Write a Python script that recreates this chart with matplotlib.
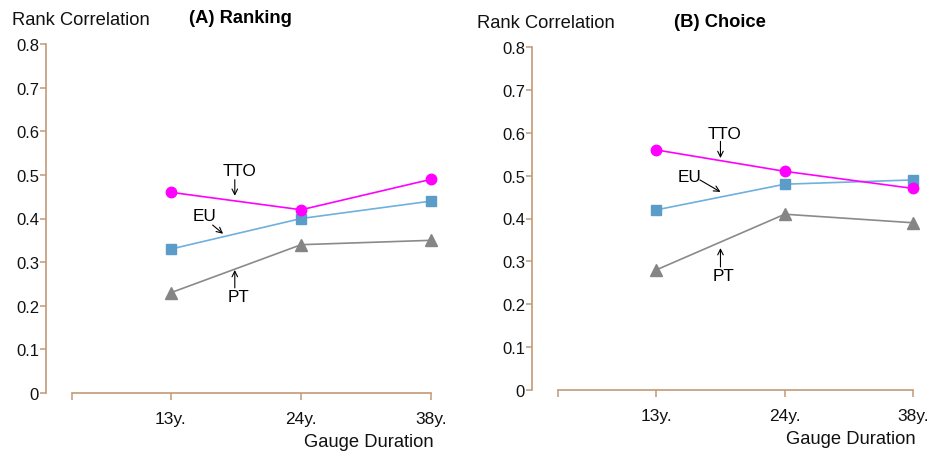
import matplotlib
matplotlib.use("Agg")
import matplotlib.pyplot as plt

plt.rcParams['font.family'] = ['Liberation Sans', 'DejaVu Sans']

# data
durations = ["13y.", "24y.", "38y."]
rank_tto = [0.46, 0.42, 0.49]
rank_eu = [0.33, 0.40, 0.44]
rank_pt = [0.23, 0.34, 0.35]
choice_tto = [0.56, 0.51, 0.47]
choice_eu = [0.42, 0.48, 0.49]
choice_pt = [0.28, 0.41, 0.39]
yticks = [0, 0.1, 0.2, 0.3, 0.4, 0.5, 0.6, 0.7, 0.8]

axis_col = "#c39a76"
tto_col = "#ff00ff"
eu_line = "#6fb0dc"
eu_mark = "#5b9cc9"
pt_line = "#8a8a8a"
pt_mark = "#858585"


def draw_panel(ax, tto, eu, pt, title, title_x, ylab_x, labels, x_left):
    x = list(range(len(durations)))
    ax.plot(x, tto, color=tto_col, lw=1.2, marker='o', ms=7.5, mec=tto_col, mfc=tto_col,
            zorder=3, clip_on=False)
    ax.plot(x, eu, color=eu_line, lw=1.2, marker='s', ms=7, mec=eu_mark, mfc=eu_mark,
            zorder=2, clip_on=False)
    ax.plot(x, pt, color=pt_line, lw=1.2, marker='^', ms=9, mec=pt_mark, mfc=pt_mark,
            zorder=2, clip_on=False)

    ax.set_xlim(x_left, 2.02)
    ax.set_ylim(0, 0.8)
    for s in ['top', 'right']:
        ax.spines[s].set_visible(False)
    ax.spines['left'].set_color(axis_col)
    ax.spines['bottom'].set_color(axis_col)
    ax.spines['left'].set_linewidth(1.2)
    ax.spines['bottom'].set_linewidth(1.2)
    ax.spines['left'].set_bounds(0, 0.8)
    ax.spines['bottom'].set_bounds(-0.76, 2)

    ax.set_yticks(yticks)
    ax.set_yticklabels(["0" if v == 0 else f"{v:.1f}" for v in yticks], fontsize=12)
    ax.set_xticks([-0.76] + x)
    ax.set_xticklabels([""] + durations, fontsize=12.5)
    ax.tick_params(axis='y', colors=axis_col, labelcolor='#111111', length=4, width=1.1, pad=1)
    ax.tick_params(axis='x', colors=axis_col, labelcolor='#111111', length=5, width=1.1, pad=8)

    ax.text(ylab_x, 1.07, "Rank Correlation", transform=ax.transAxes, fontsize=13.2,
            ha='left', va='center', color='#111111')
    ax.text(title_x, 1.075, title, transform=ax.transAxes, fontsize=13.2, fontweight='bold',
            ha='center', va='center')
    ax.text(1.0, -0.14, "Gauge Duration", transform=ax.transAxes, fontsize=13.2,
            ha='right', va='center', color='#111111')

    for name, txt_xy, tail, head in labels:
        ax.text(txt_xy[0], txt_xy[1], name, fontsize=12.3, ha='center', va='center')
        ax.annotate("", xy=head, xytext=tail,
                    arrowprops=dict(arrowstyle='->', color='black', lw=0.8,
                                    shrinkA=0, shrinkB=0))


fig = plt.figure(figsize=(9.33, 4.52), dpi=100)
ax1 = fig.add_axes([46 / 933, 1 - 394 / 452, 388 / 933, 349 / 452])
ax2 = fig.add_axes([532 / 933, 1 - 391 / 452, 384 / 933, 343 / 452])

draw_panel(ax1, rank_tto, rank_eu, rank_pt, "(A) Ranking", 0.5, -0.088,
           [("TTO", (0.53, 0.509), (0.49, 0.489), (0.49, 0.452)),
            ("EU", (0.26, 0.408), (0.32, 0.385), (0.40, 0.365)),
            ("PT", (0.52, 0.222), (0.49, 0.241), (0.49, 0.282))],
           -0.96)
draw_panel(ax2, choice_tto, choice_eu, choice_pt, "(B) Choice", 0.49, -0.143,
           [("TTO", (0.53, 0.599), (0.50, 0.580), (0.50, 0.541)),
            ("EU", (0.26, 0.499), (0.34, 0.490), (0.50, 0.462)),
            ("PT", (0.52, 0.268), (0.50, 0.287), (0.50, 0.331))],
           -0.965)

fig.savefig("out.png", dpi=100)
